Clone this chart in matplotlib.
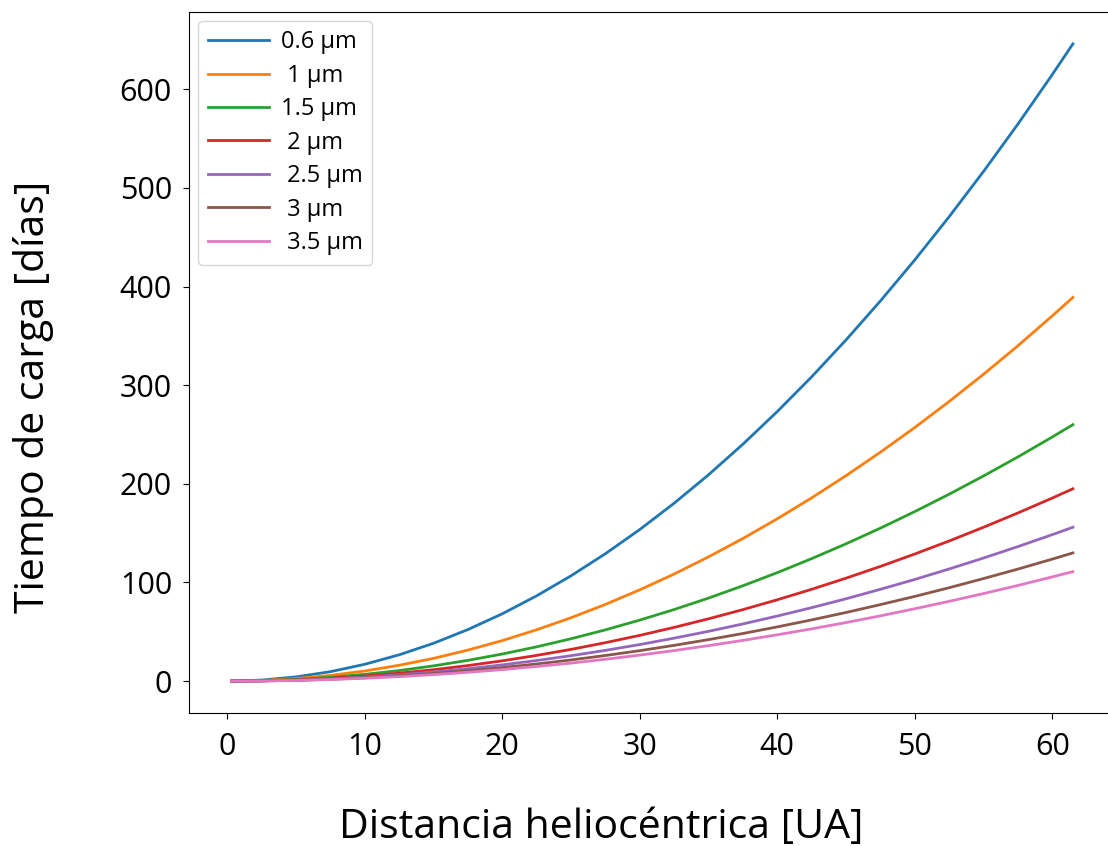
import matplotlib
matplotlib.use("Agg")
import matplotlib.pyplot as plt

plt.rcParams['font.family'] = ['Open Sans', 'DejaVu Sans']

# Heliocentric distance [UA] at which the curves were read
distancia = [0.3, 2.5, 5, 7.5, 10, 12.5, 15, 17.5, 20, 22.5, 25, 27.5, 30,
             32.5, 35, 37.5, 40, 42.5, 45, 47.5, 50, 52.5, 55, 57.5, 60, 61.5]

# Charging time [days], one list per grain size
t_06 = [0, 1.1, 4.3, 9.6, 17.1, 26.7, 38.4, 52.3, 68.3, 86.5, 106.8, 129.2, 153.7,
        180.4, 209.2, 240.2, 273.3, 308.5, 345.9, 385.4, 427.0, 470.8, 516.7, 564.7, 614.9, 646]
t_10 = [0, 0.6, 2.6, 5.8, 10.3, 16.1, 23.1, 31.5, 41.1, 52.1, 64.3, 77.8, 92.6,
        108.6, 126.0, 144.6, 164.6, 185.8, 208.3, 232.1, 257.1, 283.5, 311.1, 340.0, 370.3, 389]
t_15 = [0, 0.4, 1.7, 3.9, 6.9, 10.7, 15.5, 21.1, 27.5, 34.8, 43.0, 52.0, 61.9,
        72.6, 84.2, 96.7, 110.0, 124.2, 139.2, 155.1, 171.9, 189.5, 208.0, 227.3, 247.5, 260]
t_20 = [0, 0.3, 1.3, 2.9, 5.2, 8.1, 11.6, 15.8, 20.6, 26.1, 32.2, 39.0, 46.4,
        54.5, 63.2, 72.5, 82.5, 93.1, 104.4, 116.3, 128.9, 142.1, 156.0, 170.5, 185.6, 195]
t_25 = [0, 0.3, 1.0, 2.3, 4.1, 6.4, 9.3, 12.6, 16.5, 20.9, 25.8, 31.2, 37.1,
        43.6, 50.5, 58.0, 66.0, 74.5, 83.5, 93.1, 103.1, 113.7, 124.8, 136.4, 148.5, 156]
t_30 = [0, 0.2, 0.9, 1.9, 3.4, 5.4, 7.7, 10.5, 13.8, 17.4, 21.5, 26.0, 30.9,
        36.3, 42.1, 48.3, 55.0, 62.1, 69.6, 77.6, 85.9, 94.7, 104.0, 113.6, 123.7, 130]
t_35 = [0, 0.2, 0.7, 1.7, 2.9, 4.6, 6.6, 9.0, 11.7, 14.9, 18.3, 22.2, 26.4,
        31.0, 36.0, 41.3, 47.0, 53.0, 59.4, 66.2, 73.4, 80.9, 88.8, 97.0, 105.7, 111]

series = [t_06, t_10, t_15, t_20, t_25, t_30, t_35]
labels = ["0.6 µm", " 1 µm", "1.5 µm", " 2 µm", " 2.5 µm", " 3 µm", " 3.5 µm"]

xticks = [0, 10, 20, 30, 40, 50, 60]
yticks = [0, 100, 200, 300, 400, 500, 600]

fig = plt.figure(figsize=(11.08, 8.46), dpi=100)
ax = fig.add_axes([0.1709, 0.1572, 0.8354, 0.8286])

for s, lab in zip(series, labels):
    ax.plot(distancia, s, lw=2, label=lab)

ax.set_xlim(-2.76, 64.56)
ax.set_ylim(-32.3, 678.3)
ax.set_xticks(xticks)
ax.set_yticks(yticks)
ax.tick_params(axis='x', labelsize=22, pad=9, length=4.5)
ax.tick_params(axis='y', labelsize=22, pad=8, length=4.5)
ax.spines['right'].set_visible(False)

ax.set_xlabel("Distancia heliocéntrica [UA]", fontsize=29.5, labelpad=33)
ax.set_ylabel("Tiempo de carga [días]", fontsize=29.5, labelpad=47.5)
ax.xaxis.label.set_x(0.4447)
ax.yaxis.label.set_y(0.4508)

ax.legend(loc='upper left', fontsize=17, handlelength=2.6, labelspacing=0.4,
          handletextpad=0.5, borderaxespad=0.38)

fig.savefig("out.png", dpi=100)
